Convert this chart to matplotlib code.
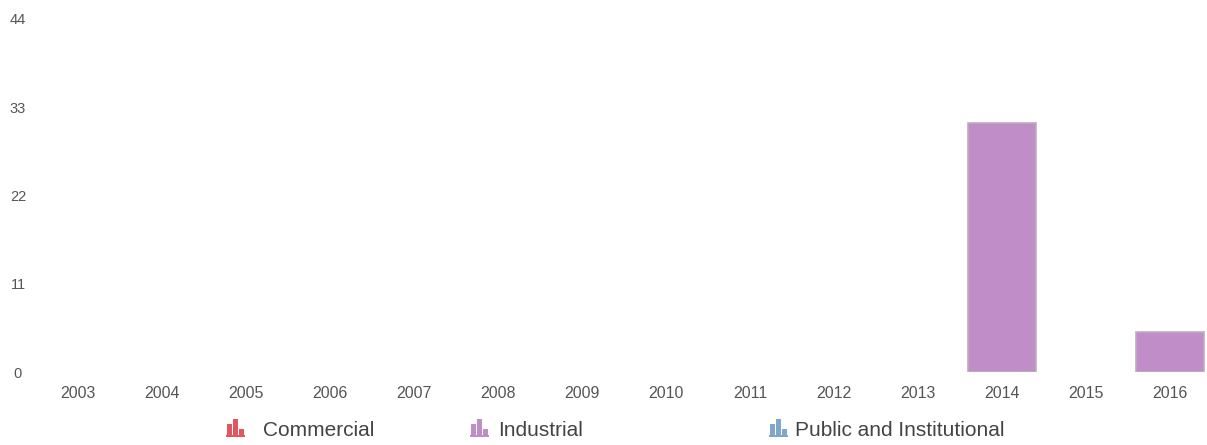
import numpy as np
import matplotlib.pyplot as plt
from matplotlib.patches import Rectangle

plt.rcParams['font.family'] = ['Liberation Sans', 'DejaVu Sans']

years = ['2003', '2004', '2005', '2006', '2007', '2008', '2009',
         '2010', '2011', '2012', '2013', '2014', '2015', '2016']
commercial = [0, 0, 0, 0, 0, 0, 0, 0, 0, 0, 0, 0, 0, 0]
industrial = [0, 0, 0, 0, 0, 0, 0, 0, 0, 0, 0, 31, 0, 5]
public = [0, 0, 0, 0, 0, 0, 0, 0, 0, 0, 0, 0, 0, 0]
y_ticks = [0, 11, 22, 33, 44]

series_names = ['Commercial', 'Industrial', 'Public and Institutional']
series_colors = ['#e0575f', '#c08dc8', '#7fa7c9']

W, H = 1207, 445
fig = plt.figure(figsize=(W / 100, H / 100), dpi=100)
# the plot area runs slightly past the right edge, as in the original
ax = fig.add_axes([36 / W, (H - 372) / H, 1176 / W, (372 - 19) / H])

x = np.arange(len(years))
for vals, c in zip([commercial, industrial, public], series_colors):
    vals = np.array(vals)
    nz = vals > 0
    if nz.any():
        ax.bar(x[nz], vals[nz], width=0.82, color=c,
               edgecolor='#bcaebe', linewidth=1.2)

ax.set_xlim(-0.5, len(years) - 0.5)
ax.set_ylim(0, 44)
ax.set_xticks(x)
ax.set_xticklabels(years)
ax.set_yticks(y_ticks)
ax.tick_params(axis='both', length=0, colors='#555555')
ax.tick_params(axis='x', pad=10, labelsize=11.5)
ax.tick_params(axis='y', pad=13, labelsize=10.5)
for lab in ax.get_yticklabels():
    lab.set_horizontalalignment('center')
for s in ax.spines.values():
    s.set_visible(False)


# legend at the bottom with small bar-chart icons (pixel positions)
def icon(x0, base, color):
    for dx, h in [(0, 11), (6, 16), (12, 6)]:
        fig.patches.append(Rectangle(((x0 + dx) / W, (H - base) / H), 5 / W, h / H,
                                     transform=fig.transFigure, color=color, lw=0))
    fig.patches.append(Rectangle(((x0 - 1) / W, (H - base - 2) / H), 19 / W, 2 / H,
                                 transform=fig.transFigure, color=color, lw=0))


legend_pos = [(227, 263), (471, 498), (770, 795)]
for (ix, tx), name, c in zip(legend_pos, series_names, series_colors):
    icon(ix, 435, c)
    fig.text(tx / W, (H - 430) / H, name, fontsize=15, color='#444444',
             ha='left', va='center')

fig.savefig('out.png', dpi=100)
